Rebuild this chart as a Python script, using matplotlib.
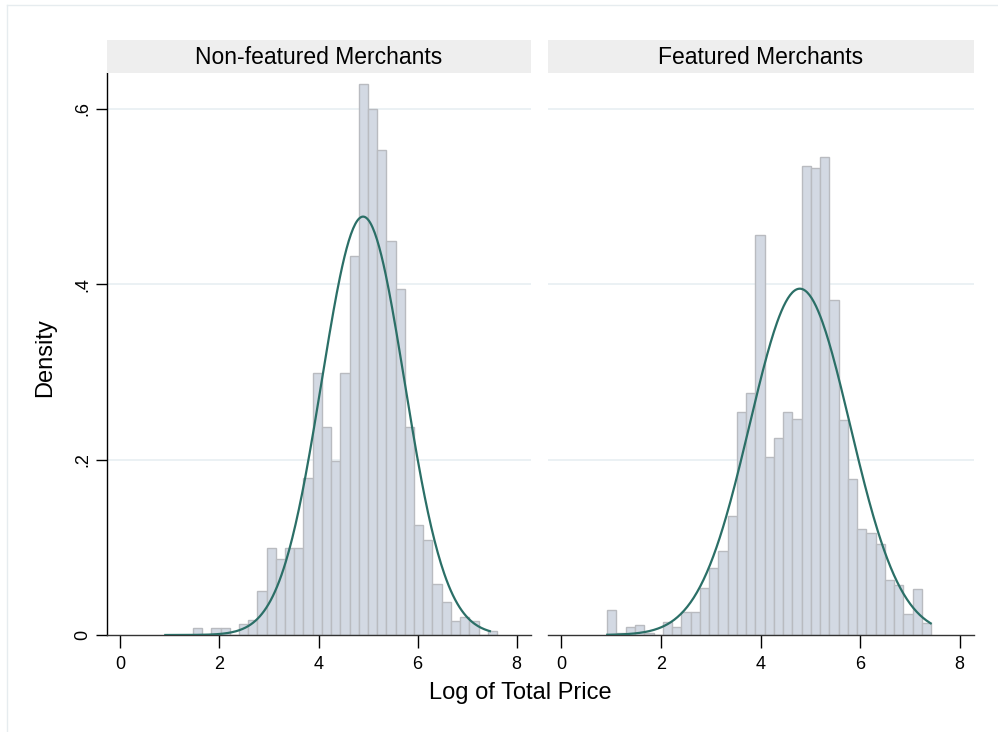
import numpy as np
import matplotlib.pyplot as plt
from matplotlib.lines import Line2D

plt.rcParams['font.family'] = ['Liberation Sans', 'DejaVu Sans']

# histogram bins (density)
bin_width = 0.186

nonfeat_start = 0.907
nonfeat_density = [0, 0, 0, 0.008, 0, 0.008, 0.008, 0, 0.0127, 0.017,
                   0.050, 0.099, 0.087, 0.099, 0.099, 0.179, 0.299, 0.237,
                   0.199, 0.299, 0.4325, 0.628, 0.600, 0.553, 0.449, 0.395,
                   0.237, 0.125, 0.108, 0.0586, 0.0376, 0.0156, 0.021,
                   0.0156, 0, 0.0046]

feat_start = 0.92
feat_density = [0.0286, 0.002, 0.0095, 0.0114, 0.002, 0, 0.0145, 0.0088,
                0.0267, 0.0267, 0.054, 0.076, 0.096, 0.136, 0.2545, 0.276,
                0.4566, 0.2025, 0.2244, 0.254, 0.2467, 0.535, 0.533, 0.545,
                0.382, 0.245, 0.1776, 0.1207, 0.1159, 0.1037, 0.0629,
                0.0568, 0.0236, 0.053, 0.0141]

# normal overlay: mean, sd, range of data
nonfeat_norm = (4.90, 0.836, 0.907, 7.46)
feat_norm = (4.79, 1.01, 0.92, 7.42)

titles = ['Non-featured Merchants', 'Featured Merchants']
xticks = [0, 2, 4, 6, 8]
yticks = [0, 0.2, 0.4, 0.6]
ytick_labels = ['0', '.2', '.4', '.6']

bar_face = '#d3d9e3'
bar_edge = '#b9bbc0'
curve_col = '#2b6f67'
grid_col = '#e8eff2'

fig = plt.figure(figsize=(9.98, 7.32), dpi=100)
W, H = 998, 732

def px_axes(x0, y0, x1, y1):
    return fig.add_axes([x0 / W, 1 - y1 / H, (x1 - x0) / W, (y1 - y0) / H])

panels = [
    (px_axes(107, 73, 531, 635), nonfeat_start, nonfeat_density, nonfeat_norm),
    (px_axes(548, 73, 974, 635), feat_start, feat_density, feat_norm),
]

for i, (ax, start, dens, norm) in enumerate(panels):
    lefts = start + bin_width * np.arange(len(dens))
    ax.bar(lefts, dens, width=bin_width, align='edge', color=bar_face,
           edgecolor=bar_edge, linewidth=1.0, zorder=2)
    mu, sd, lo, hi = norm
    xs = np.linspace(lo, hi, 300)
    ys = np.exp(-0.5 * ((xs - mu) / sd) ** 2) / (sd * np.sqrt(2 * np.pi))
    ax.plot(xs, ys, color=curve_col, linewidth=1.6, zorder=3)

    ax.set_xlim(-0.27, 8.29)
    ax.set_ylim(0, 0.641)
    for g in yticks[1:]:
        ax.axhline(g, color=grid_col, linewidth=1.2, zorder=1)

    ax.set_xticks(xticks)
    ax.set_xticklabels([str(t) for t in xticks], fontsize=13)
    ax.tick_params(axis='x', length=9, width=1, pad=6, color='black')
    for s in ['top', 'right']:
        ax.spines[s].set_visible(False)
    ax.spines['bottom'].set_color('#333333')
    ax.spines['bottom'].set_linewidth(1.0)
    if i == 0:
        ax.set_yticks(yticks)
        ax.set_yticklabels(ytick_labels, fontsize=13, rotation=90, va='center')
        ax.tick_params(axis='y', length=8, width=1, pad=3)
        ax.spines['left'].set_color('black')
        ax.spines['left'].set_linewidth(1.0)
    else:
        ax.set_yticks([])
        ax.spines['left'].set_visible(False)

    # strip title
    pos = ax.get_position()
    fig.patches.append(plt.Rectangle((pos.x0, 1 - 73 / H), pos.width, 33 / H,
                                     transform=fig.transFigure,
                                     facecolor='#eeeeee', edgecolor='none'))
    fig.text(pos.x0 + pos.width / 2, 1 - 57 / H, titles[i], ha='center',
             va='center', fontsize=16.5)

fig.text(45 / W, 1 - 358 / H, 'Density', rotation=90, ha='center',
         va='center', fontsize=17)
fig.text(520 / W, 1 - 693 / H, 'Log of Total Price', ha='center',
         va='center', fontsize=17)

# light outer frame of the graph region
fig.lines.append(Line2D([7 / W, 7 / W], [0, 1 - 5 / H], transform=fig.transFigure,
                        color='#e6ecef', linewidth=1))
fig.lines.append(Line2D([7 / W, 1], [1 - 5 / H, 1 - 5 / H], transform=fig.transFigure,
                        color='#e6ecef', linewidth=1))

fig.savefig('out.png', dpi=100)
